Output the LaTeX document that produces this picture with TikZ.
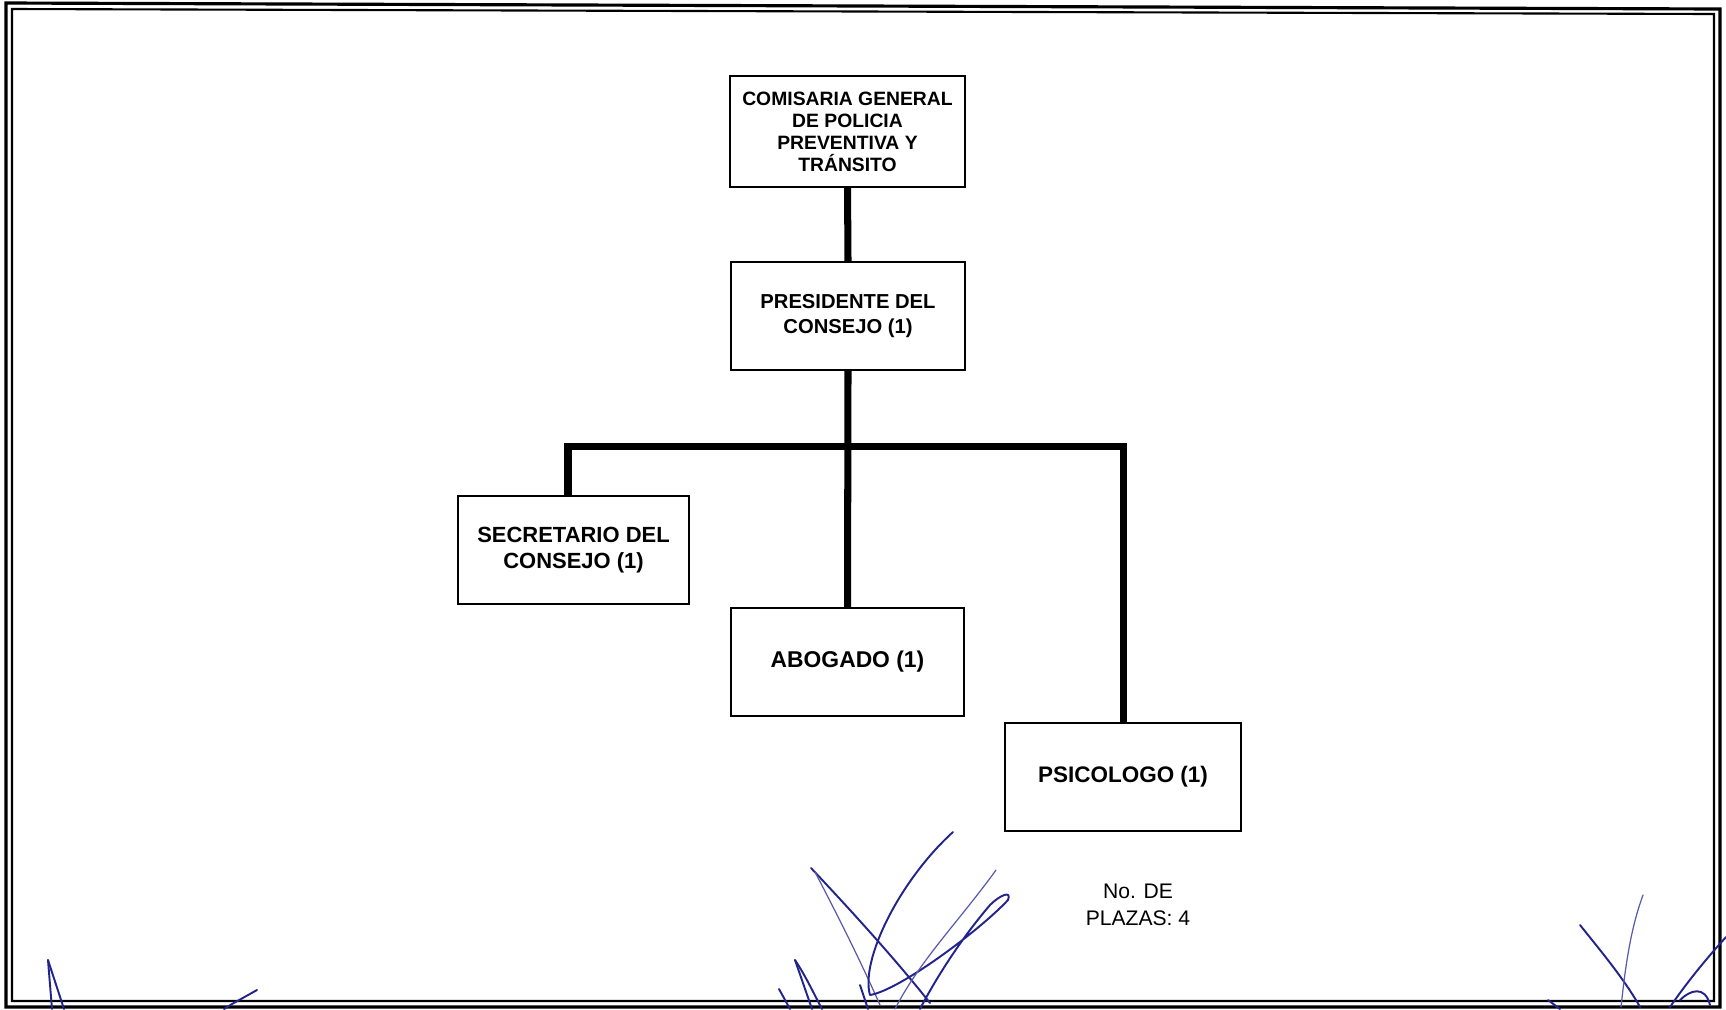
\documentclass[tikz,border=0pt]{standalone}
\usepackage{fontspec}
\setmainfont{Liberation Sans}
\begin{document}
\begin{tikzpicture}[x=0.02cm,y=-0.02cm,
  orgbox/.style={draw=black,line width=1.2pt,fill=white,align=center,inner sep=2pt,
    minimum height=2.16cm,font=\bfseries\fontsize{12.5}{14.5}\selectfont},
  conn/.style={line width=4pt,line join=miter,line cap=butt},
  frame/.style={line width=1.5pt},
  sig/.style={draw={rgb,255:red,35;green,35;blue,140},line width=1.1pt,line cap=round,line join=round},
  sigl/.style={draw={rgb,255:red,90;green,90;blue,170},line width=0.7pt,line cap=round}]
\useasboundingbox (0,0) rectangle (1726,1009);
% double frame
\draw[frame,line width=1.8pt] (6,3) -- (1720,9) -- (1720,1007) -- (6,1007) -- cycle;
\draw[frame,line width=1.2pt] (12,9) -- (1714,14) -- (1714,1001) -- (12,1001) -- cycle;
% nodes
\node[orgbox,minimum width=4.7cm,minimum height=2.22cm,font=\bfseries\fontsize{11}{12.5}\selectfont] (top) at (847.5,131.5)
  {COMISARIA GENERAL\\DE POLICIA\\PREVENTIVA Y\\TRÁNSITO};
\node[orgbox,minimum width=4.68cm,font=\bfseries\fontsize{11.5}{14}\selectfont] (pres) at (848,316) {\raisebox{-3pt}{\parbox{4cm}{\centering PRESIDENTE DEL\\CONSEJO (1)}}};
\node[orgbox,minimum width=4.62cm] (sec) at (573.5,550) {\raisebox{-2pt}{\parbox{4.2cm}{\centering SECRETARIO DEL\\CONSEJO (1)}}};
\node[orgbox,minimum width=4.66cm,font=\bfseries\fontsize{13}{15}\selectfont] (abog) at (847.5,662) {\raisebox{-2pt}{ABOGADO (1)}};
\node[orgbox,minimum width=4.72cm,font=\bfseries\fontsize{12.8}{15}\selectfont] (psic) at (1123,777) {\raisebox{-2pt}{PSICOLOGO (1)}};
\node[align=center,font=\fontsize{12}{15}\selectfont] (plazas) at (1138,905) {No. DE\\PLAZAS: 4};
% connectors
\coordinate (barL) at (568,446);
\coordinate (barR) at (psic.north |- barL);
\draw[conn] (top.south) -- (pres.north);
\draw[conn] (pres.south) -- (abog.north);
\draw[conn] (barL |- sec.north) -- (barL) -- (barR) -- (psic.north);
% signatures
\begin{scope}
\clip (0,0) rectangle (1726,1009);
\draw[sig] (48,960) -- (52,1009);
\draw[sig] (48,960) -- (64,1009);
\draw[sig] (257,990) -- (232,1004) -- (224,1009);
% centre signature
\draw[sig] (811,868) .. controls (860,920) and (900,965) .. (930,1003);
\draw[sigl] (815,872) .. controls (840,920) and (860,960) .. (880,1005);
\draw[sig] (953,832) .. controls (900,880) and (860,960) .. (870,995)
  .. controls (900,990) and (980,930) .. (1008,900)
  .. controls (1012,890) and (1000,895) .. (990,905)
  .. controls (960,940) and (935,980) .. (920,1009);
\draw[sigl] (996,870) .. controls (960,920) and (920,960) .. (895,1009);
\draw[sig] (795,960) .. controls (805,975) and (812,990) .. (822,1009);
\draw[sig] (795,960) -- (812,1009);
\draw[sig] (779,989) -- (790,1009);
\draw[sig] (860,985) -- (868,1009);
% right signature
\draw[sig] (1580,925) .. controls (1600,950) and (1625,980) .. (1640,1007);
\draw[sigl] (1643,895) .. controls (1630,930) and (1625,970) .. (1621,1007);
\draw[sig] (1726,937) .. controls (1705,960) and (1685,985) .. (1670,1007);
\draw[sig] (1680,1000) .. controls (1690,990) and (1705,985) .. (1710,1005);
\draw[sig] (1548,1000) -- (1560,1009);
\end{scope}
\end{tikzpicture}
\end{document}
